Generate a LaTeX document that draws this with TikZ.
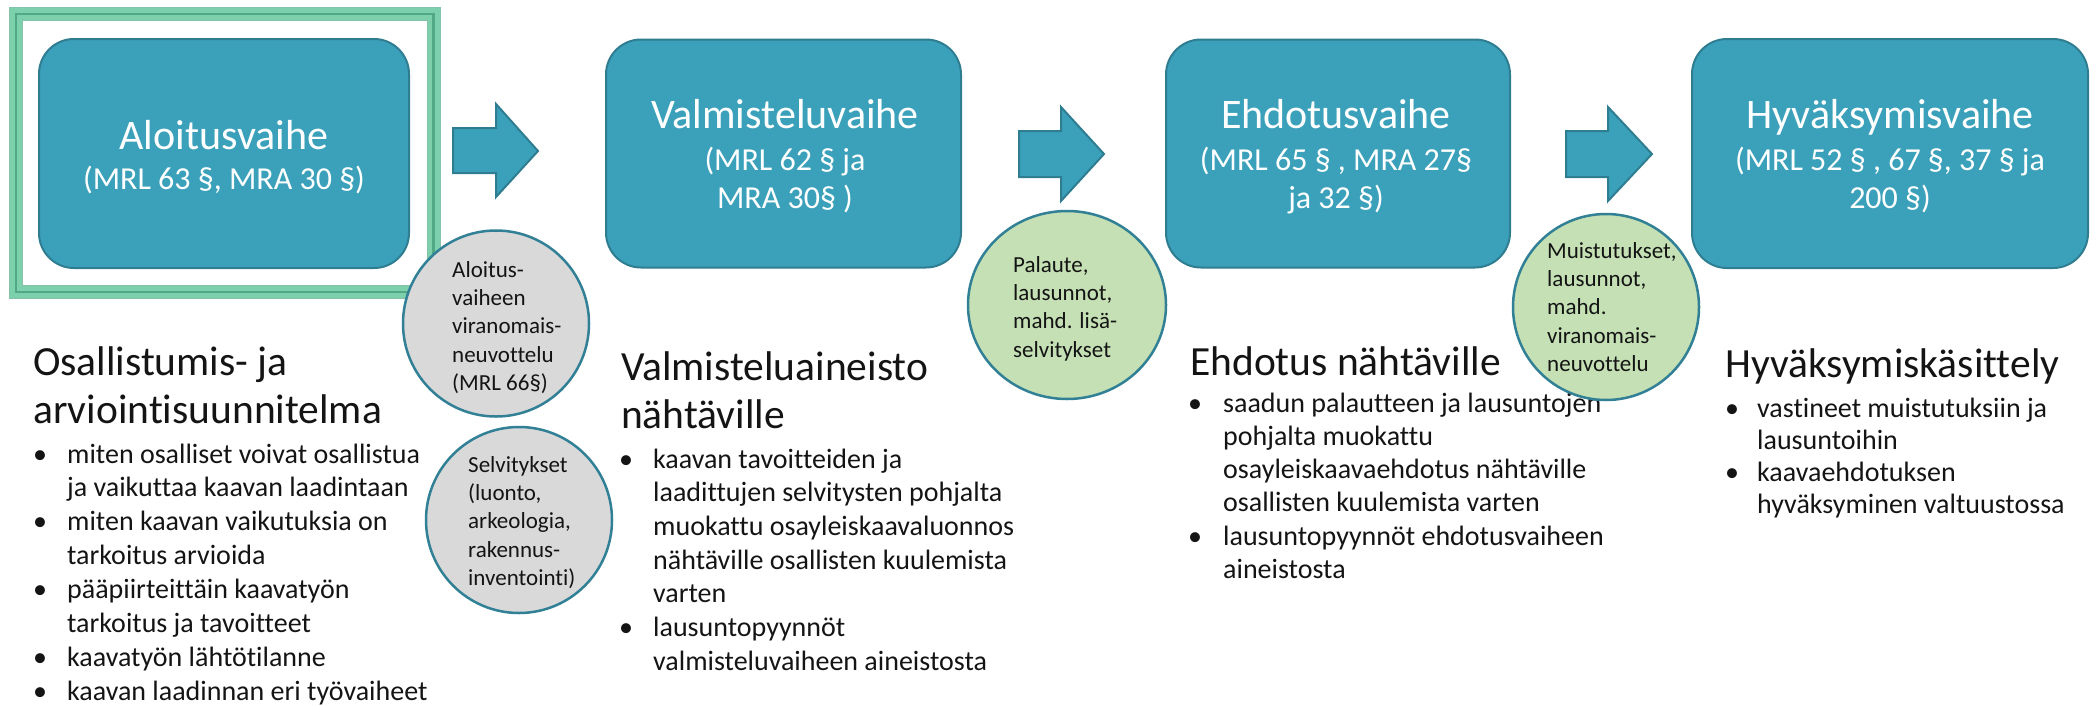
\documentclass[tikz,border=0pt]{standalone}
\usepackage{fontspec}
\setmainfont{Carlito}[Ligatures={NoCommon}]
\usetikzlibrary{shapes.geometric}
\definecolor{boxfill}{RGB}{59,161,187}
\definecolor{boxline}{RGB}{46,125,145}
\definecolor{grayfill}{RGB}{217,217,217}
\definecolor{circline}{RGB}{49,128,150}
\definecolor{greenfill}{RGB}{196,224,180}
\definecolor{framegreen}{RGB}{125,208,172}
\definecolor{framedark}{RGB}{80,168,132}
\definecolor{textblack}{RGB}{20,20,20}
\tikzset{
  stage/.style={draw=boxline, fill=boxfill, line width=2pt, rounded corners=35pt, inner sep=0pt},
  blockarrow/.style={draw=boxline, fill=boxfill, line width=2pt, line join=miter},
  stagetitle/.style={text=white, font=\fontsize{42}{48}\selectfont, inner sep=0pt, anchor=base},
  stagesub/.style={text=white, font=\fontsize{32}{38.5}\selectfont, inner sep=0pt, anchor=base},
  graycirc/.style={draw=circline, fill=grayfill, line width=2.5pt, circle, inner sep=0pt},
  greencirc/.style={draw=circline, fill=greenfill, line width=2.5pt, ellipse, inner sep=0pt},
  circtext/.style={text=textblack, font=\fontsize{23}{28.4}\selectfont, inner sep=0pt, anchor=base west},
  heading/.style={text=textblack, font=\fontsize{41.5}{48.5}\selectfont, inner sep=0pt, anchor=base west},
  bullets/.style={text=textblack, inner sep=0pt, anchor=base west}
}
\newcommand{\bul}[1]{\makebox[#1][l]{•}}
\begin{document}
\begin{tikzpicture}[x=1pt,y=-1pt]
\useasboundingbox (0,0) rectangle (2098,705);
% frame around first stage
\draw[line width=14pt, framegreen] (16,14) rectangle (433.5,292);
\draw[line width=2.5pt, framedark] (16,14) rectangle (433.5,292);
\draw[line width=0.8pt, framedark!70] (9.4,7.4) rectangle (440,298.6);
\draw[line width=0.8pt, framedark!70] (22.6,20.6) rectangle (427,285.4);
% stage boxes
\node[stage, minimum width=370pt, minimum height=229pt] (b1) at (224,153.5) {};
\node[stage, minimum width=355pt, minimum height=228pt] (b2) at (783.5,153.5) {};
\node[stage, minimum width=344pt, minimum height=228pt] (b3) at (1338,153.5) {};
\node[stage, minimum width=396pt, minimum height=229pt] (b4) at (1890,153.5) {};
% stage texts
\node[stagetitle] (t1) at (224,149) {Aloitusvaihe};
\node[stagesub] (s1) at (224,189) {(MRL 63 §, MRA 30 §)};
\node[stagetitle] (t2) at (785,128) {Valmisteluvaihe};
\node[stagesub] (s2) at (785,170) {\begin{tabular}[t]{@{}c@{}}(MRL 62 § ja\\MRA 30§ )\end{tabular}};
\node[stagetitle] (t3) at (1336,128) {Ehdotusvaihe};
\node[stagesub] (s3) at (1336,170) {\begin{tabular}[t]{@{}c@{}}(MRL 65 § , MRA 27§\\ja 32 §)\end{tabular}};
\node[stagetitle] (t4) at (1890,128) {Hyväksymisvaihe};
\node[stagesub] (s4) at (1890,170) {\begin{tabular}[t]{@{}c@{}}(MRL 52 § , 67 §, 37 § ja\\200 §)\end{tabular}};
% block arrows
\draw[blockarrow] (453,128) -- (496,128) -- (496,104) -- (538,151) -- (496,197) -- (496,173) -- (453,173) -- cycle;
\draw[blockarrow] (1019,131) -- (1061,131) -- (1061,107) -- (1104,154) -- (1061,201) -- (1061,177) -- (1019,177) -- cycle;
\draw[blockarrow] (1566,131) -- (1608,131) -- (1608,107) -- (1652,154) -- (1608,201) -- (1608,177) -- (1566,177) -- cycle;
% text blocks
\node[heading] (h1) at (33,375) {\begin{tabular}[t]{@{}l@{}}Osallistumis- ja\\arviointisuunnitelma\end{tabular}};
\node[bullets] (l1) at (33,463) {\fontsize{28}{33.9}\selectfont\begin{tabular}[t]{@{}l@{}l@{}}
\bul{34pt}&miten osalliset voivat osallistua\\
&ja vaikuttaa kaavan laadintaan\\
\bul{34pt}&miten kaavan vaikutuksia on\\
&tarkoitus arvioida\\
\bul{34pt}&pääpiirteittäin kaavatyön\\
&tarkoitus ja tavoitteet\\
\bul{34pt}&kaavatyön lähtötilanne\\
\bul{34pt}&kaavan laadinnan eri työvaiheet
\end{tabular}};
\node[heading] (h2) at (621,380) {\begin{tabular}[t]{@{}l@{}}Valmisteluaineisto\\nähtäville\end{tabular}};
\node[bullets] (l2) at (619,468) {\fontsize{28}{33.7}\selectfont\begin{tabular}[t]{@{}l@{}l@{}}
\bul{34pt}&kaavan tavoitteiden ja\\
&laadittujen selvitysten pohjalta\\
&muokattu osayleiskaavaluonnos\\
&nähtäville osallisten kuulemista\\
&varten\\
\bul{34pt}&lausuntopyynnöt\\
&valmisteluvaiheen aineistosta
\end{tabular}};
\node[heading] (h3) at (1190,375) {Ehdotus nähtäville};
\node[bullets] (l3) at (1188,412) {\fontsize{28}{33.3}\selectfont\begin{tabular}[t]{@{}l@{}l@{}}
\bul{35pt}&saadun palautteen ja lausuntojen\\
&pohjalta muokattu\\
&osayleiskaavaehdotus nähtäville\\
&osallisten kuulemista varten\\
\bul{35pt}&lausuntopyynnöt ehdotusvaiheen\\
&aineistosta
\end{tabular}};
\node[heading] (h4) at (1725,377) {Hyväksymiskäsittely};
\node[bullets] (l4) at (1725,417) {\fontsize{28}{32.3}\selectfont\begin{tabular}[t]{@{}l@{}l@{}}
\bul{32pt}&vastineet muistutuksiin ja\\
&lausuntoihin\\
\bul{32pt}&kaavaehdotuksen\\
&hyväksyminen valtuustossa
\end{tabular}};
% circles
\node[graycirc, minimum size=186pt] (c1) at (496,323.5) {};
\node[graycirc, minimum size=186pt] (c2) at (519,520) {};
\node[greencirc, minimum width=198pt, minimum height=188pt] (c3) at (1067,305) {};
\node[greencirc, minimum width=186pt, minimum height=186pt] (c4) at (1606,307) {};
\node[circtext] (ct1) at (452,277) {\begin{tabular}[t]{@{}l@{}}Aloitus-\\vaiheen\\viranomais-\\neuvottelu\\(MRL 66§)\end{tabular}};
\node[circtext] (ct2) at (468,472) {\begin{tabular}[t]{@{}l@{}}Selvitykset\\(luonto,\\arkeologia,\\rakennus-\\inventointi)\end{tabular}};
\node[circtext] (ct3) at (1013,272) {\begin{tabular}[t]{@{}l@{}}Palaute,\\lausunnot,\\mahd. lisä-\\selvitykset\end{tabular}};
\node[circtext] (ct4) at (1547,258) {\begin{tabular}[t]{@{}l@{}}Muistutukset,\\lausunnot,\\mahd.\\viranomais-\\neuvottelu\end{tabular}};
\end{tikzpicture}
\end{document}
